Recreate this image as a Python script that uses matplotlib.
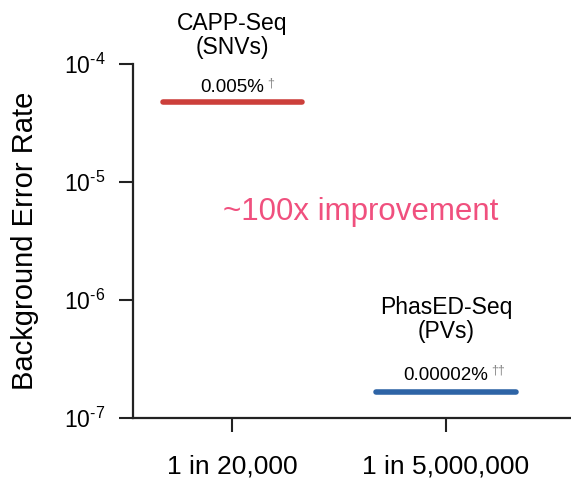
import matplotlib
matplotlib.use("Agg")
import matplotlib.pyplot as plt

plt.rcParams['font.family'] = ['Liberation Sans', 'DejaVu Sans']
plt.rcParams['mathtext.fontset'] = 'custom'
plt.rcParams['mathtext.rm'] = 'Liberation Sans'
plt.rcParams['mathtext.it'] = 'Liberation Sans'
plt.rcParams['mathtext.bf'] = 'Liberation Sans'

categories = ["1 in 20,000", "1 in 5,000,000"]
methods = ["CAPP-Seq\n(SNVs)", "PhasED-Seq\n(PVs)"]
error_rates = [4.75e-5, 1.65e-7]
rate_labels = ["0.005%", "0.00002%"]
daggers = ["\u2020", "\u2020\u2020"]
colors = ["#CC3F3B", "#2E64A6"]
yticks = [1e-7, 1e-6, 1e-5, 1e-4]
ytick_labels = [r"$10^{\text{-7}}$", r"$10^{\text{-6}}$", r"$10^{\text{-5}}$", r"$10^{\text{-4}}$"]

fig = plt.figure(figsize=(5.71, 4.79), dpi=100)
ax = fig.add_axes([133/571, 1-418/479, 1-133/571, (418-64)/479])

half = 0.325
for i, (v, c) in enumerate(zip(error_rates, colors)):
    ax.plot([i - half, i + half], [v, v], color=c, lw=4, solid_capstyle='round')

ax.set_yscale('log')
ax.set_ylim(1e-7, 1e-4)
ax.set_xlim(-0.463, 1.584)
ax.set_yticks(yticks)
ax.set_yticklabels(ytick_labels)
ax.minorticks_off()
ax.set_xticks(range(len(categories)))
ax.set_xticklabels(categories)

for s in ['top', 'right']:
    ax.spines[s].set_visible(False)
for s in ['left', 'bottom']:
    ax.spines[s].set_linewidth(1.6)
    ax.spines[s].set_color('#222222')
ax.tick_params(axis='both', length=10, width=1.5, color='#222222')
ax.tick_params(axis='y', labelsize=16.5, pad=10)
ax.tick_params(axis='x', labelsize=19, pad=16)

ax.set_ylabel("Background Error Rate", fontsize=21, labelpad=18)

title_off = [67, 73]
rate_off = [10, 12.5]
for i, (v, m, lab, dg) in enumerate(zip(error_rates, methods, rate_labels, daggers)):
    ax.annotate(m, xy=(i, v), xycoords='data', xytext=(0, title_off[i]), textcoords='offset pixels',
                ha='center', va='center', fontsize=16.5, annotation_clip=False, linespacing=1.05)
    t = ax.annotate(lab, xy=(i, v), xycoords='data', xytext=(0, rate_off[i]),
                    textcoords='offset pixels', ha='center', va='baseline', fontsize=13.5,
                    annotation_clip=False)
    ax.annotate(dg, xy=(1, 1), xycoords=t, xytext=(3, 2), textcoords='offset pixels',
                ha='left', va='top', fontsize=9, color='#888888', annotation_clip=False)

ax.text(0.6, 10**-5.25, "~100x improvement", color='#F0507E', fontsize=22.5,
        ha='center', va='center')

fig.savefig("out.png", dpi=100)
